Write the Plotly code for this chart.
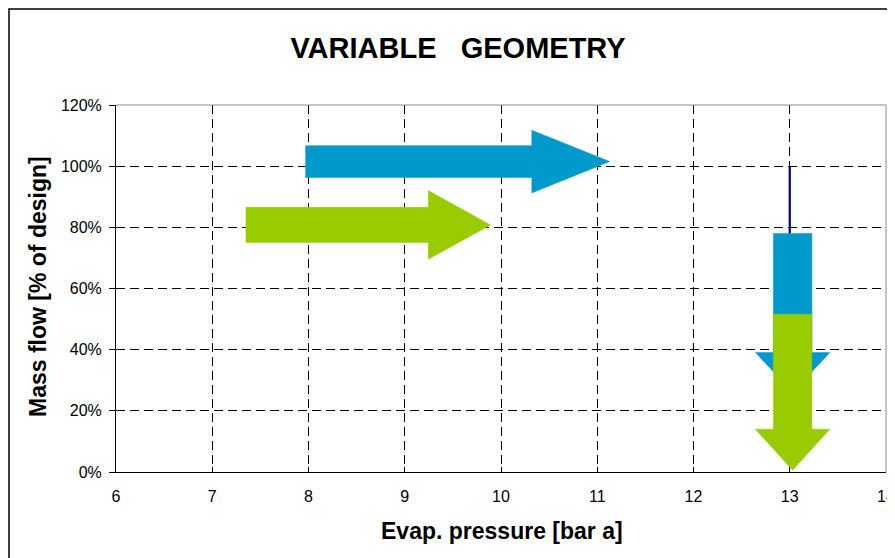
import plotly.graph_objects as go

# ---------------- data ----------------
x_ticks = [6, 7, 8, 9, 10, 11, 12, 13, 14]
y_ticks = [0.0, 0.2, 0.4, 0.6, 0.8, 1.0, 1.2]

# horizontal arrows: shift of evaporation pressure (bar a) at a given mass flow
h_arrow_colors = ["#0099CC", "#99CC00"]
h_start_x = [7.97, 7.35]
h_end_x = [11.13, 9.89]
h_level_y = [1.015, 0.808]

# vertical arrows at 13 bar a: reduction of mass flow
v_arrow_colors = ["#0099CC", "#99CC00"]
v_pos_x = [13.03, 13.03]
v_start_y = [0.78, 0.516]
v_end_y = [0.26, 0.006]

# navy stem line
stem_x = [13.0, 13.0]
stem_y = [1.00, 0.78]

# ---------------- arrow shape styles (in axis units) ----------------
h_shaft_half = [0.052, 0.0575]
h_head_half = [0.1025, 0.1125]
h_head_len = [0.81, 0.645]
v_shaft_half = [0.20, 0.20]
v_head_half = [0.387, 0.387]
v_head_len = [0.131, 0.134]

FONT = "Liberation Sans, Arial, sans-serif"

fig = go.Figure()


def h_arrow(x0, x1, y, s, h, L):
    xb = x1 - L
    xs = [x0, xb, xb, x1, xb, xb, x0, x0]
    ys = [y - s, y - s, y - h, y, y + h, y + s, y + s, y - s]
    return xs, ys


def v_arrow(x, y0, y1, s, h, L):
    yb = y1 + L
    xs = [x - s, x - s, x - h, x, x + h, x + s, x + s, x - s]
    ys = [y0, yb, yb, y1, yb, yb, y0, y0]
    return xs, ys


for i in range(len(h_start_x)):
    xs, ys = h_arrow(h_start_x[i], h_end_x[i], h_level_y[i],
                     h_shaft_half[i], h_head_half[i], h_head_len[i])
    fig.add_trace(go.Scatter(x=xs, y=ys, mode="lines", fill="toself",
                             fillcolor=h_arrow_colors[i],
                             line=dict(color=h_arrow_colors[i], width=0.5),
                             hoverinfo="skip", showlegend=False))

fig.add_trace(go.Scatter(x=stem_x, y=stem_y, mode="lines",
                         line=dict(color="#000080", width=2.2),
                         hoverinfo="skip", showlegend=False))

for i in range(len(v_pos_x)):
    xs, ys = v_arrow(v_pos_x[i], v_start_y[i], v_end_y[i],
                     v_shaft_half[i], v_head_half[i], v_head_len[i])
    fig.add_trace(go.Scatter(x=xs, y=ys, mode="lines", fill="toself",
                             fillcolor=v_arrow_colors[i],
                             line=dict(color=v_arrow_colors[i], width=0.5),
                             hoverinfo="skip", showlegend=False))

# page body has an 8px margin: compensate so screen pixels match
OFF = 8
W, H = 895, 558
PW, PH = 770, 367
ML, MT = 116 - OFF, 105 - OFF
MR = W - ML - PW
MB = H - MT - PH


def px_to_paper_x(px):
    return (px - OFF - ML) / PW


def px_to_paper_y(py):
    return (MT + PH - (py - OFF)) / PH


fig.update_layout(
    width=W, height=H,
    margin=dict(l=ML, r=MR, t=MT, b=MB, autoexpand=False),
    paper_bgcolor="white", plot_bgcolor="white",
    font=dict(family=FONT, color="black", size=16),
    title=dict(text="VARIABLE\u00a0\u00a0\u00a0GEOMETRY",
               font=dict(family=FONT, size=29, color="black", weight="bold"),
               x=(458 - OFF) / W, xref="container", xanchor="center",
               y=1 - (47.5 - OFF) / H, yref="container", yanchor="middle"),
    showlegend=False,
)

fig.update_xaxes(
    range=[6, 14], tickvals=x_ticks, ticktext=[str(v) for v in x_ticks],
    showgrid=True, gridcolor="black", gridwidth=1, griddash="9px,5px",
    showline=True, linecolor="black", linewidth=1,
    ticks="inside", ticklen=5, tickcolor="black",
    ticklabelstandoff=10,
    tickfont=dict(family=FONT, size=16, color="black"),
    zeroline=False, fixedrange=True,
)
fig.update_yaxes(
    range=[0, 1.2], tickvals=y_ticks, tickformat=".0%",
    showgrid=True, gridcolor="black", gridwidth=1, griddash="9px,5px",
    showline=True, linecolor="black", linewidth=1,
    ticks="outside", ticklen=6, tickcolor="black",
    ticklabelstandoff=4,
    tickfont=dict(family=FONT, size=16, color="black"),
    zeroline=False, fixedrange=True,
)

# axis titles as annotations
fig.add_annotation(text="<b>Evap. pressure [bar a]</b>", xref="paper", yref="paper",
                   x=px_to_paper_x(502), y=px_to_paper_y(531),
                   xanchor="center", yanchor="middle", showarrow=False,
                   font=dict(family=FONT, size=23, color="black"))
fig.add_annotation(text="<b>Mass flow [% of design]</b>", xref="paper", yref="paper",
                   x=px_to_paper_x(38), y=px_to_paper_y(287),
                   xanchor="center", yanchor="middle", showarrow=False, textangle=-90,
                   font=dict(family=FONT, size=23, color="black"))

# gray plot-area border on top and right
fig.add_shape(type="line", xref="paper", yref="paper", x0=0, x1=1, y0=1, y1=1,
              line=dict(color="#8c8c8c", width=1), layer="above")
fig.add_shape(type="line", xref="paper", yref="paper", x0=1, x1=1, y0=0, y1=1,
              line=dict(color="#8c8c8c", width=1), layer="above")
# outer chart frame (kept just inside the drawable page area)
fig.add_shape(type="rect", xref="paper", yref="paper",
              x0=px_to_paper_x(9), x1=px_to_paper_x(915),
              y0=px_to_paper_y(580), y1=px_to_paper_y(9),
              line=dict(color="black", width=1.5), layer="above")

fig.write_html("out.html")
